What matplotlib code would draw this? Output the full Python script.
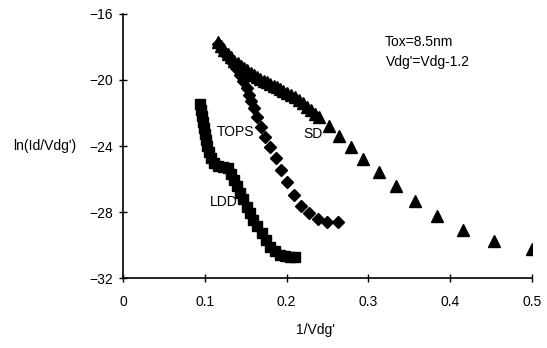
import numpy as np
import matplotlib
matplotlib.use('Agg')
import matplotlib.pyplot as plt

plt.rcParams['font.family'] = ['Liberation Sans', 'DejaVu Sans']
plt.rcParams['font.size'] = 10

# SD (triangles)
sd_x = [0.116, 0.120, 0.124, 0.128, 0.132, 0.136, 0.140, 0.144, 0.148, 0.152,
        0.156, 0.160, 0.164, 0.168, 0.172, 0.176, 0.180, 0.184, 0.188, 0.192,
        0.196, 0.200, 0.205, 0.210, 0.215, 0.220, 0.225, 0.230, 0.235,
        0.240, 0.252, 0.2645, 0.2787, 0.293, 0.3134, 0.3337, 0.3574, 0.3835,
        0.416, 0.4535, 0.4996]
sd_y = [-17.70, -17.95, -18.18, -18.40, -18.62, -18.82, -19.00, -19.16, -19.30, -19.42,
        -19.55, -19.68, -19.80, -19.92, -20.04, -20.14, -20.24, -20.34, -20.44, -20.54,
        -20.64, -20.76, -20.90, -21.05, -21.22, -21.42, -21.62, -21.84, -22.04,
        -22.22, -22.79, -23.39, -24.04, -24.81, -25.56, -26.40, -27.33, -28.24,
        -29.09, -29.74, -30.26]

# TOPS (diamonds)
tops_x = [0.116, 0.121, 0.127, 0.133, 0.138, 0.143, 0.147, 0.151, 0.154, 0.156,
          0.160, 0.164, 0.169, 0.174, 0.180, 0.187, 0.193, 0.201, 0.209, 0.218, 0.227,
          0.238, 0.249, 0.263]
tops_y = [-17.82, -18.18, -18.55, -18.91, -19.27, -19.70, -20.06, -20.48, -20.91, -21.27,
          -21.70, -22.24, -22.85, -23.45, -24.06, -24.75, -25.45, -26.20, -26.97, -27.64, -28.08,
          -28.44, -28.59, -28.59]

# LDD (squares)
ldd_x = [0.094, 0.095, 0.097, 0.098, 0.099, 0.100, 0.101, 0.103, 0.105, 0.108,
         0.111, 0.116, 0.122, 0.128, 0.132, 0.136, 0.139, 0.143, 0.147, 0.151,
         0.155, 0.159, 0.164, 0.170, 0.175, 0.180, 0.186, 0.192, 0.198, 0.204, 0.210]
ldd_y = [-21.45, -21.82, -22.18, -22.55, -22.91, -23.27, -23.64, -24.00, -24.36, -24.73,
         -25.03, -25.21, -25.27, -25.33, -25.70, -26.06, -26.42, -26.85, -27.21, -27.68,
         -28.06, -28.48, -28.85, -29.29, -29.70, -30.10, -30.36, -30.61, -30.67, -30.70, -30.70]

xticks = [0, 0.1, 0.2, 0.3, 0.4, 0.5]
xticklabels = ['0', '0.1', '0.2', '0.3', '0.4', '0.5']
yticks = [-32, -28, -24, -20, -16]

fig = plt.figure(figsize=(5.47, 3.48), dpi=100)
ax = fig.add_axes([0.2249, 0.2011, 0.7477, 0.7587])

ax.plot(sd_x, sd_y, '^', color='black', markersize=9, linestyle='none')
ax.plot(tops_x, tops_y, 'D', color='black', markersize=6.5, linestyle='none')
ax.plot(ldd_x, ldd_y, 's', color='black', markersize=7.5, linestyle='none')

ax.set_xlim(0, 0.5)
ax.set_ylim(-32, -16)
ax.set_xticks(xticks)
ax.set_xticklabels(xticklabels)
ax.set_yticks(yticks)

for s in ['top', 'right']:
    ax.spines[s].set_visible(False)
ax.spines['left'].set_linewidth(1.2)
ax.spines['bottom'].set_linewidth(1.2)
ax.tick_params(axis='both', direction='inout', length=6, width=1, labelsize=10)
ax.tick_params(axis='x', pad=9)
ax.tick_params(axis='y', pad=4)

ax.set_xlabel("1/Vdg'", fontsize=10)
ax.xaxis.set_label_coords(0.47, -0.17)
ax.set_ylabel("ln(Id/Vdg')", fontsize=10, rotation=0, ha='right', va='center')
ax.yaxis.set_label_coords(-0.115, 0.5)

ax.text(0.320, -17.68, 'Tox=8.5nm', fontsize=10, va='center')
ax.text(0.321, -18.89, "Vdg'=Vdg-1.2", fontsize=10, va='center')
ax.text(0.161, -23.13, 'TOPS', fontsize=10, ha='right', va='center')
ax.text(0.2317, -23.27, 'SD', fontsize=10, ha='center', va='center')
ax.text(0.106, -27.37, 'LDD', fontsize=10, ha='left', va='center')

fig.savefig('out.png', dpi=100)
